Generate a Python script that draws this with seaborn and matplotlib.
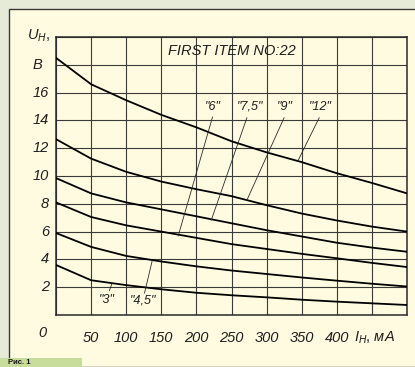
import matplotlib
matplotlib.use("Agg")
import matplotlib.pyplot as plt
import seaborn as sns
import pandas as pd
from matplotlib.patches import Rectangle

# ---- data ----
current_ma = [0, 50, 100, 150, 200, 250, 300, 350, 400, 450, 500]
u_3 = [3.6, 2.5, 2.15, 1.85, 1.6, 1.42, 1.27, 1.1, 0.96, 0.84, 0.72]
u_45 = [5.9, 4.9, 4.25, 3.85, 3.5, 3.2, 2.95, 2.7, 2.47, 2.25, 2.05]
u_6 = [8.1, 7.05, 6.45, 6.0, 5.55, 5.1, 4.75, 4.4, 4.08, 3.75, 3.45]
u_75 = [9.85, 8.75, 8.1, 7.6, 7.1, 6.6, 6.1, 5.65, 5.2, 4.85, 4.55]
u_9 = [12.65, 11.25, 10.3, 9.6, 9.05, 8.55, 7.9, 7.3, 6.8, 6.36, 6.0]
u_12 = [18.5, 16.6, 15.45, 14.4, 13.5, 12.5, 11.7, 11.0, 10.2, 9.5, 8.75]

series_names = ['"3"', '"4,5"', '"6"', '"7,5"', '"9"', '"12"']
x_ticks = [50, 100, 150, 200, 250, 300, 350, 400]
y_ticks = [2, 4, 6, 8, 10, 12, 14, 16]
title_text = "FIRST ITEM NO:22"
caption_text = "Рис. 1"

# label positions (mA, V) and leader lines
upper_labels = ['"6"', '"7,5"', '"9"', '"12"']
upper_label_x = [223, 276, 326, 376]
upper_label_y = [15.0, 15.0, 15.0, 15.0]
upper_leader_start = [(223, 14.25), (272, 14.2), (325, 14.2), (375, 14.2)]
upper_leader_end = [(174, 5.68), (221, 6.8), (272, 8.27), (344, 11.03)]
lower_labels = ['"3"', '"4,5"']
lower_label_x = [73, 124]
lower_label_y = [1.05, 1.05]
lower_leader_start = [(76, 1.75), (126, 1.56)]
lower_leader_end = [(80, 2.3), (137, 3.9)]

rows = []
for name, vals in zip(series_names, [u_3, u_45, u_6, u_75, u_9, u_12]):
    for xv, yv in zip(current_ma, vals):
        rows.append({"I": xv, "U": yv, "series": name})
df = pd.DataFrame(rows)

sns.set_style("white")
plt.rcParams['font.family'] = ['Liberation Sans', 'DejaVu Sans']
plt.rcParams['mathtext.fontset'] = 'custom'
plt.rcParams['mathtext.it'] = 'Liberation Sans:italic'
plt.rcParams['mathtext.rm'] = 'Liberation Sans'

W, H = 415, 367
fig = plt.figure(figsize=(W / 100, H / 100), dpi=100)
fig.patch.set_facecolor("#e5ebd6")

# cream panel
panel = Rectangle((9 / W, 0), 1.0, (H - 9) / H, transform=fig.transFigure,
                  facecolor="#fffbe0", edgecolor="#3a3a3a", linewidth=1.0, zorder=-10)
fig.patches.append(panel)
# green caption box
cap = Rectangle((0, 0), 82 / W, 9 / H, transform=fig.transFigure,
                facecolor="#c8dc9c", edgecolor="none", zorder=-9)
fig.patches.append(cap)
fig.text(8 / W, 4.5 / H, caption_text, ha="left", va="center",
         fontsize=5.5, fontweight="bold", color="#111111", zorder=-8)

ax = fig.add_axes([56 / W, (H - 315) / H, 351 / W, 278 / H])
ax.set_zorder(5)
ax.set_facecolor("#fffbe0")

sns.lineplot(data=df, x="I", y="U", hue="series", palette=["black"] * 6,
             estimator=None, legend=False, linewidth=1.3, ax=ax, zorder=3)

ax.set_xlim(0, 500)
ax.set_ylim(0, 20)
ax.set_xticks(range(0, 501, 50))
ax.set_yticks(range(0, 21, 2))
ax.grid(True, color="#3a3a3a", linewidth=0.8)
ax.tick_params(length=0, labelbottom=False, labelleft=False)
for s in ax.spines.values():
    s.set_color("#2a2a2a")
    s.set_linewidth(1.1)
ax.set_xlabel("")
ax.set_ylabel("")

tkw = dict(fontsize=10.5, style="italic", color="#1e1e1e")
for t in x_ticks:
    ax.text(t, -1.65, str(t), ha="center", va="center", **tkw)
for t in y_ticks:
    ax.text(-10, t, str(t), ha="right", va="center", **tkw)
ax.text(-20, 18, "B", ha="right", va="center", **tkw)
ax.text(-8, 20.1, r"$\mathit{U}_{\mathit{H}}$,", ha="right", va="center",
        fontsize=10.5, color="#1e1e1e")
ax.text(-20, -1.3, "0", ha="center", va="center", **tkw)
ax.text(425, -1.65, r"$\mathit{I}_{\mathit{H}}$, $\mathit{мА}$", ha="left", va="center",
        fontsize=10.5, color="#1e1e1e")
ax.text(250, 19.0, title_text, ha="center", va="center", **tkw)

lkw = dict(fontsize=9, style="italic", color="#1e1e1e")
for lab, lx, ly, st, en in zip(upper_labels, upper_label_x, upper_label_y,
                               upper_leader_start, upper_leader_end):
    ax.text(lx, ly, lab, ha="center", va="center", **lkw)
    ax.plot([st[0], en[0]], [st[1], en[1]], color="#2a2a2a", linewidth=0.6, zorder=3)
for lab, lx, ly, st, en in zip(lower_labels, lower_label_x, lower_label_y,
                               lower_leader_start, lower_leader_end):
    ax.text(lx, ly, lab, ha="center", va="center", **lkw)
    ax.plot([st[0], en[0]], [st[1], en[1]], color="#2a2a2a", linewidth=0.6, zorder=3)

fig.savefig("out.png", dpi=100, facecolor=fig.get_facecolor())
